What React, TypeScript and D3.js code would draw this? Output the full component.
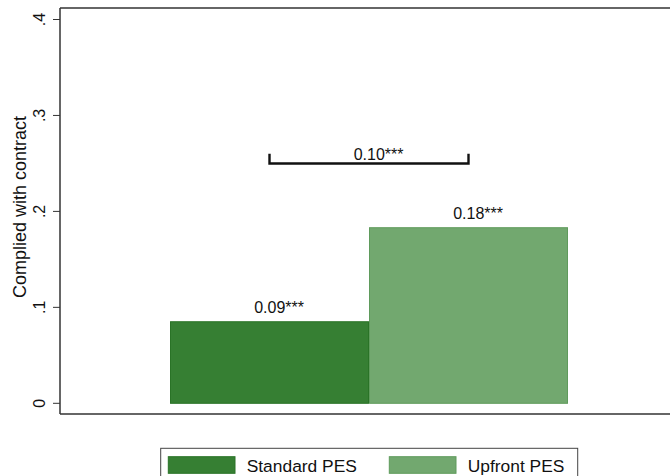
import React from "react";
import * as d3 from "d3";

const categories = ["Standard PES", "Upfront PES"];
const values = [0.085, 0.183];
const valueLabels = ["0.09", "0.18"];
const diffLabel = "0.10";
const stars = "***";
const bracketValue = 0.25;
const yTicks = [0, 0.1, 0.2, 0.3, 0.4];
const yTickLabels = ["0", ".1", ".2", ".3", ".4"];
const fills = ["#367f33", "#72a86f"];
const strokes = ["#2a7327", "#5f9b5c"];

const W = 670;
const H = 476;
const FONT = "Liberation Sans, Arial, sans-serif";

export default function App() {
  const y = d3.scaleLinear().domain([0, 0.4]).range([403.3, 19.5]);
  const x = d3.scaleBand().domain(categories).range([170, 568]).padding(0);
  const axisLeft = 60;
  const axisBottom = 414;
  const frameTop = 8;
  const bw = x.bandwidth();
  const cx = categories.map((c) => (x(c) as number) + bw / 2);
  const by = y(bracketValue);
  const bracketDrop = y(bracketValue) - y(bracketValue - 0.01);
  const numHalf = 15.3;

  return (
    <svg width={W} height={H} style={{ position: "absolute", left: 0, top: 0, background: "#fff" }} fontFamily={FONT}>
      <rect x={0} y={0} width={W} height={H} fill="#fff" />
      <line x1={axisLeft} x2={W} y1={frameTop} y2={frameTop} stroke="#333" strokeWidth={1.5} />
      <line x1={axisLeft} x2={axisLeft} y1={frameTop} y2={axisBottom} stroke="#333" strokeWidth={1.5} />
      <line x1={axisLeft} x2={W} y1={axisBottom} y2={axisBottom} stroke="#333" strokeWidth={1.5} />
      {yTicks.map((t, i) => (
        <g key={i}>
          <line x1={axisLeft - 7} x2={axisLeft} y1={y(t)} y2={y(t)} stroke="#333" strokeWidth={1} />
          <text
            transform={`translate(${44.5},${y(t)}) rotate(-90)`}
            textAnchor="middle"
            fontSize={16}
            fill="#111"
          >
            {yTickLabels[i]}
          </text>
        </g>
      ))}
      <text
        transform={`translate(26,${207}) rotate(-90)`}
        textAnchor="middle"
        fontSize={18}
        fill="#111"
      >
        Complied with contract
      </text>
      {categories.map((c, i) => (
        <rect
          key={c}
          x={(x(c) as number) + 0.5}
          y={y(values[i])}
          width={bw - 1}
          height={y(0) - y(values[i])}
          fill={fills[i]}
          stroke={strokes[i]}
          strokeWidth={1}
        />
      ))}
      {categories.map((c, i) => (
        <text key={c} x={cx[i] - numHalf} y={y(values[i]) - 9} fontSize={16} fill="#111">
          {valueLabels[i] + stars}
        </text>
      ))}
      <path
        d={`M${cx[0]},${by + bracketDrop} V${by} H${cx[1]} V${by + bracketDrop}`}
        fill="none"
        stroke="#111"
        strokeWidth={2.4}
      />
      <text x={(cx[0] + cx[1]) / 2 - numHalf} y={by - 3} fontSize={16} fill="#111">
        {diffLabel + stars}
      </text>
      <rect x={160.7} y={448.3} width={417} height={40} fill="#fff" stroke="#444" strokeWidth={1} />
      {categories.map((c, i) => {
        const lx = i === 0 ? 168.3 : 389.3;
        return (
          <g key={c}>
            <rect x={lx} y={456.7} width={66.7} height={16.6} fill={fills[i]} stroke={strokes[i]} strokeWidth={1} />
            <text x={lx + 78.4} y={472} fontSize={17.4} fill="#111">
              {c}
            </text>
          </g>
        );
      })}
    </svg>
  );
}
